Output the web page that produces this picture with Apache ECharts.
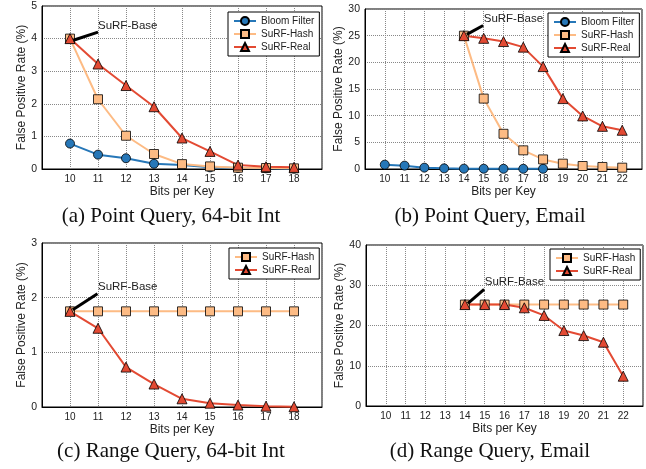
<!DOCTYPE html>
<html>
<head>
<meta charset="utf-8">
<script src="https://cdn.jsdelivr.net/npm/echarts@6/dist/echarts.min.js"></script>
<style>
  html, body { margin: 0; padding: 0; background: #fff; }
  #chart { width: 646px; height: 469px; }
</style>
</head>
<body>
<div id="chart"></div>
<script>
// x values (bits per key)
const bitsInt = [10, 11, 12, 13, 14, 15, 16, 17, 18]
const bitsEmailBloom = [10, 11, 12, 13, 14, 15, 16, 17, 18]
const bitsEmailSurf = [14, 15, 16, 17, 18, 19, 20, 21, 22]

// (a) point query, 64-bit int
const aBloom = [0.78, 0.44, 0.33, 0.16, 0.12, 0.05, 0.03, 0.02, 0.01]
const aHash = [4.0, 2.14, 1.02, 0.46, 0.15, 0.08, 0.04, 0.03, 0.02]
const aReal = [4.0, 3.22, 2.56, 1.91, 0.95, 0.54, 0.12, 0.07, 0.05]

// (b) point query, email
const bBloom = [0.81, 0.63, 0.25, 0.12, 0.06, 0.05, 0.04, 0.04, 0.04]
const bHash = [25.0, 13.2, 6.6, 3.5, 1.8, 1.0, 0.56, 0.38, 0.25]
const bReal = [25.0, 24.5, 23.9, 22.85, 19.2, 13.2, 9.95, 8.0, 7.26]

// (c) range query, 64-bit int
const cHash = [1.75, 1.75, 1.75, 1.75, 1.75, 1.75, 1.75, 1.75, 1.75]
const cReal = [1.75, 1.44, 0.73, 0.42, 0.15, 0.07, 0.035, 0.015, 0.005]

// (d) range query, email
const dHash = [25.2, 25.2, 25.2, 25.2, 25.2, 25.2, 25.2, 25.2, 25.2]
const dReal = [25.2, 25.2, 25.2, 24.4, 22.5, 18.75, 17.5, 15.85, 7.4]

const captions = ['(a) Point Query, 64-bit Int', '(b) Point Query, Email',
  '(c) Range Query, 64-bit Int', '(d) Range Query, Email']

const FONT = 'Liberation Sans, Arial, Helvetica, sans-serif'
const C_BLOOM = '#2677b8'
const C_HASH = '#fdbb84'
const C_REAL = '#e34a33'

const pairs = (xs, ys) => xs.map((x, i) => [x, ys[i]])

const grids = [
  { left: 42, top: 6, width: 280, height: 163 },
  { left: 365, top: 9, width: 277, height: 160 },
  { left: 42, top: 243, width: 280, height: 164 },
  { left: 366, top: 245, width: 277, height: 161 }
].map(g => ({ ...g, show: true, borderColor: '#000', borderWidth: 1, backgroundColor: '#fff' }))

const splitDotted = { show: true, lineStyle: { type: 'dotted', color: '#888', width: 1 } }

const xRanges = [[9, 19, 10, 18], [9, 23, 10, 22], [9, 19, 10, 18], [9, 23, 10, 22]]
const xAxes = xRanges.map((r, i) => ({
  type: 'value', gridIndex: i, min: r[0], max: r[1], interval: 1,
  name: 'Bits per Key', nameLocation: 'middle', nameGap: 17,
  nameTextStyle: { fontFamily: FONT, fontSize: 12, color: '#222' },
  axisLine: { lineStyle: { color: '#000' } },
  axisTick: { show: false },
  axisLabel: {
    fontFamily: FONT, fontSize: 10, color: '#222', margin: 5,
    formatter: v => (v >= r[2] && v <= r[3]) ? String(v) : ''
  },
  splitLine: splitDotted
}))

const yRanges = [[5, 1], [30, 5], [3, 1], [40, 10]]
const yAxes = yRanges.map((r, i) => ({
  type: 'value', gridIndex: i, min: 0, max: r[0], interval: r[1],
  name: 'False Positive Rate (%)', nameLocation: 'middle', nameGap: 12,
  nameTextStyle: { fontFamily: FONT, fontSize: 12, color: '#222' },
  axisLine: { show: true, lineStyle: { color: '#000' } },
  axisTick: { show: false },
  axisLabel: { fontFamily: FONT, fontSize: 10.5, color: '#222', margin: 5 },
  splitLine: splitDotted
}))

const mk = (name, idx, xs, ys) => {
  const style = {
    'Bloom Filter': { color: C_BLOOM, symbol: 'circle', size: 9 },
    'SuRF-Hash': { color: C_HASH, symbol: 'rect', size: 9 },
    'SuRF-Real': { color: C_REAL, symbol: 'triangle', size: 10 }
  }[name]
  return {
    name, type: 'line', xAxisIndex: idx, yAxisIndex: idx,
    data: pairs(xs, ys),
    symbol: style.symbol, symbolSize: style.size,
    lineStyle: { color: style.color, width: 2 },
    itemStyle: { color: style.color, borderColor: '#000', borderWidth: 0.8 },
    animation: false
  }
}

// arrow + "SuRF-Base" label, placed in data coordinates
const base = (idx, from, tip, text) => ({
  type: 'line', xAxisIndex: idx, yAxisIndex: idx, data: [], silent: true,
  markLine: {
    silent: true, symbol: ['none', 'arrow'], symbolSize: [0, 14],
    lineStyle: { color: '#000', width: 3, type: 'solid' },
    label: { show: false },
    data: [[{ coord: from }, { coord: tip }]]
  },
  markPoint: {
    symbol: 'circle', symbolSize: 0,
    label: { show: true, position: 'right', distance: 0, formatter: 'SuRF-Base',
      fontFamily: FONT, fontSize: 11.5, color: '#222' },
    data: [{ coord: text }]
  },
  animation: false
})

const series = [
  mk('Bloom Filter', 0, bitsInt, aBloom),
  mk('SuRF-Hash', 0, bitsInt, aHash),
  mk('SuRF-Real', 0, bitsInt, aReal),
  mk('Bloom Filter', 1, bitsEmailBloom, bBloom),
  mk('SuRF-Hash', 1, bitsEmailSurf, bHash),
  mk('SuRF-Real', 1, bitsEmailSurf, bReal),
  mk('SuRF-Hash', 2, bitsInt, cHash),
  mk('SuRF-Real', 2, bitsInt, cReal),
  mk('SuRF-Hash', 3, bitsEmailSurf, dHash),
  mk('SuRF-Real', 3, bitsEmailSurf, dReal),
  base(0, [11.0, 4.2], [10.12, 3.95], [11.0, 4.38]),
  base(1, [14.97, 26.9], [14.15, 25.25], [15.0, 28.2]),
  base(2, [10.98, 2.07], [10.1, 1.78], [11.0, 2.2]),
  base(3, [14.97, 29.0], [14.15, 25.5], [15.0, 30.9])
]

const legendBase = {
  orient: 'vertical', itemWidth: 22, itemHeight: 10, itemGap: 3,
  padding: [4, 5, 4, 5],
  borderColor: '#000', borderWidth: 1, backgroundColor: '#fff',
  textStyle: { fontFamily: FONT, fontSize: 10, color: '#222' },
  selectedMode: false
}
const legends = [
  { ...legendBase, left: 228, top: 12, data: ['Bloom Filter', 'SuRF-Hash', 'SuRF-Real'] },
  { ...legendBase, left: 548, top: 13, data: ['Bloom Filter', 'SuRF-Hash', 'SuRF-Real'] },
  { ...legendBase, left: 229, top: 248, data: ['SuRF-Hash', 'SuRF-Real'] },
  { ...legendBase, left: 550, top: 249, data: ['SuRF-Hash', 'SuRF-Real'] }
]

const captionPos = [[171, 206], [490, 206], [171, 441], [490, 441]]
const titles = captions.map((t, i) => ({
  text: t, left: captionPos[i][0], top: captionPos[i][1], textAlign: 'center', padding: 0,
  textStyle: { fontFamily: 'Liberation Serif, Times New Roman, serif', fontSize: 21,
    fontWeight: 'normal', color: '#111' }
}))

const chart = echarts.init(document.getElementById('chart'), null, { renderer: 'canvas' })
chart.setOption({
  animation: false,
  title: titles,
  legend: legends,
  grid: grids,
  xAxis: xAxes,
  yAxis: yAxes,
  series
})
</script>
</body>
</html>
